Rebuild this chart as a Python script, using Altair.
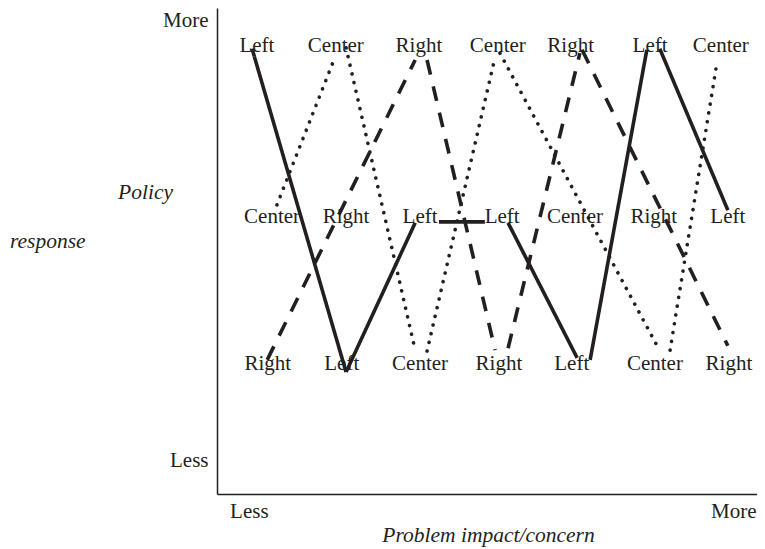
import altair as alt
import pandas as pd

FONT = "Liberation Serif"
INK = "#231f20"

# ---- text labels in three rows (x positions on a 0-100 axis) ----
top_labels = ["Left", "Center", "Right", "Center", "Right", "Left", "Center"]
top_x = [7.4, 22.0, 37.4, 52.0, 65.5, 80.2, 93.3]
mid_labels = ["Center", "Right", "Left", "Left", "Center", "Right", "Left"]
mid_x = [10.2, 23.9, 37.6, 52.8, 66.3, 80.9, 94.6]
bot_labels = ["Right", "Left", "Center", "Right", "Left", "Center", "Right"]
bot_x = [9.4, 23.1, 37.6, 52.2, 65.7, 81.1, 94.8]
row_top, row_mid, row_bot = 90.9, 55.8, 25.5

# ---- line segments per position ----
left_x = [6.5, 23.9, 41.1, 53.9, 69.1, 82.0]
left_x2 = [23.9, 36.7, 49.6, 66.7, 79.6, 94.6]
left_y = [91.6, 25.1, 56.0, 55.8, 27.6, 91.6]
left_y2 = [25.1, 55.8, 56.0, 28.0, 91.4, 58.4]

center_x = [11.1, 23.9, 38.9, 52.4, 83.9]
center_x2 = [21.5, 36.7, 51.5, 81.5, 92.6]
center_y = [59.5, 91.8, 29.4, 90.7, 29.6]
center_y2 = [88.9, 29.6, 89.9, 30.5, 88.9]

right_x = [9.3, 38.9, 53.9, 67.6]
right_x2 = [36.7, 51.5, 67.2, 94.6]
right_y = [27.6, 89.3, 30.0, 91.4]
right_y2 = [89.3, 29.6, 90.7, 30.5]

x_ticks = [5.9, 95.6]
y_ticks = [97.5, 6.8]

labels_df = pd.DataFrame({
    "label": top_labels + mid_labels + bot_labels,
    "x": top_x + mid_x + bot_x,
    "y": [row_top] * 7 + [row_mid] * 7 + [row_bot] * 7,
})

def seg_df(x, x2, y, y2):
    return pd.DataFrame({"x": x, "x2": x2, "y": y, "y2": y2})

x_axis = alt.Axis(
    values=x_ticks, labelExpr="datum.value < 50 ? 'Less' : 'More'",
    grid=False, ticks=False, domainColor=INK, domainWidth=1.5,
    labelFont=FONT, labelFontSize=21, labelColor=INK, labelPadding=6,
    labelFlush=False, labelOverlap=False,
    title="Problem impact/concern", titleFont=FONT, titleFontSize=21.5,
    titleFontStyle="italic", titleFontWeight="normal", titleColor=INK,
    titleX=271, titleY=41, titleAlign="center", titleBaseline="middle",
)
y_axis = alt.Axis(
    values=y_ticks, labelExpr="datum.value > 50 ? 'More' : 'Less'",
    grid=False, ticks=False, domainColor=INK, domainWidth=1.5,
    labelFont=FONT, labelFontSize=21, labelColor=INK, labelPadding=9,
    labelFlush=False, labelOverlap=False,
    title="Policy", titleFont=FONT, titleFontSize=21.5, titleAngle=0,
    titleFontStyle="italic", titleFontWeight="normal", titleColor=INK,
    titleX=-72, titleY=184, titleAlign="center", titleBaseline="middle",
)
xs = alt.Scale(domain=[0, 100], nice=False, zero=False)
ys = alt.Scale(domain=[0, 100], nice=False, zero=False)

def rules(df, dash, cap):
    return alt.Chart(df).mark_rule(
        color=INK, strokeWidth=3.6, strokeDash=dash, strokeCap=cap
    ).encode(
        x=alt.X("x:Q", scale=xs, axis=x_axis),
        x2="x2:Q",
        y=alt.Y("y:Q", scale=ys, axis=y_axis),
        y2="y2:Q",
    )

solid = rules(seg_df(left_x, left_x2, left_y, left_y2), [1, 0], "butt")
dotted = rules(seg_df(center_x, center_x2, center_y, center_y2), [0.1, 8.8], "round")
dashed = rules(seg_df(right_x, right_x2, right_y, right_y2), [15, 12], "butt")

text = alt.Chart(labels_df).mark_text(
    font=FONT, fontSize=21, color=INK, align="center", baseline="alphabetic"
).encode(
    x=alt.X("x:Q", scale=xs, axis=x_axis),
    y=alt.Y("y:Q", scale=ys, axis=y_axis),
    text="label:N",
)

resp = alt.Chart(alt.Data(values=[{"t": "response"}])).mark_text(
    font=FONT, fontSize=21.5, fontStyle="italic", color=INK,
    align="left", baseline="middle"
).encode(x=alt.value(-207), y=alt.value(234), text="t:N")

chart = alt.layer(solid, dotted, dashed, text, resp).properties(
    width=540, height=486,
    padding={"left": 209, "top": 0, "right": 0, "bottom": 55},
    autosize=alt.AutoSizeParams(type="none"),
    background="white",
).configure_view(stroke=None)

chart.save("out.html", embed_options={"renderer": "svg", "actions": False})
